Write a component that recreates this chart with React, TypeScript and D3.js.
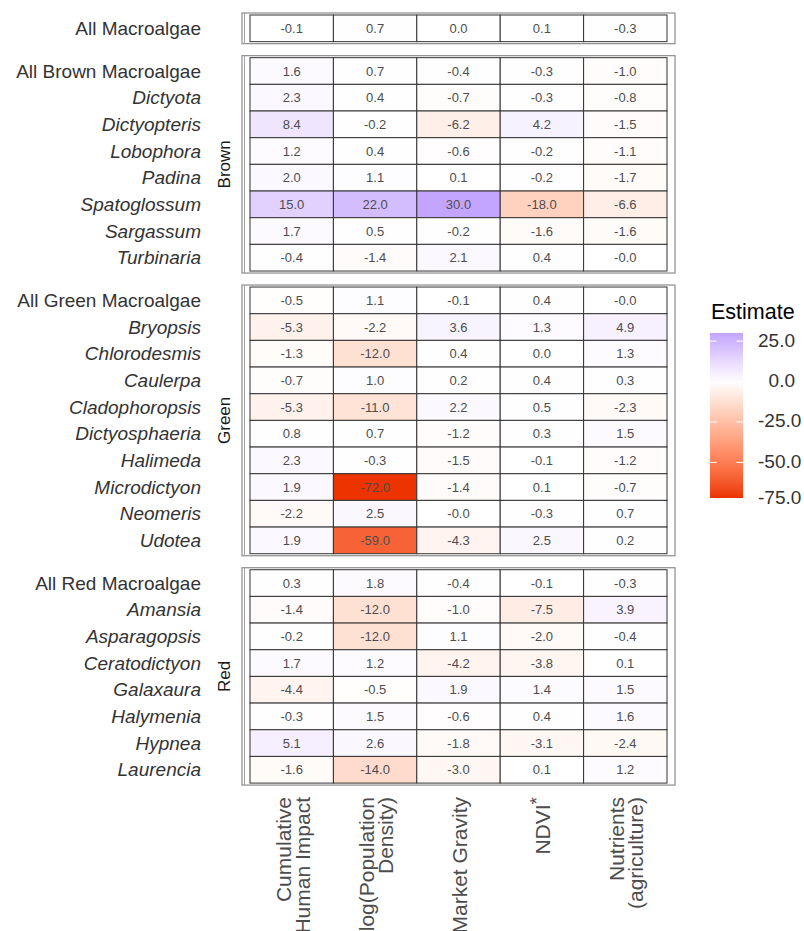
import React from "react";
import * as d3 from "d3";

// column (predictor) labels, one array of lines per column
const columnKeys = ["chi", "logpop", "gravity", "ndvi", "nutrients"];
const columnLines = [
  ["Cumulative", "Human Impact"],
  ["log(Population", "Density)"],
  ["Market Gravity"],
  ["NDVI"],
  ["Nutrients", "(agriculture)"],
];
const columnStar = [false, false, false, true, false];

// rows and estimates per group
const allRows = ["All Macroalgae"];
const allValues = [[-0.1, 0.7, 0.0, 0.1, -0.3]];

const brownRows = ["All Brown Macroalgae", "Dictyota", "Dictyopteris", "Lobophora", "Padina", "Spatoglossum", "Sargassum", "Turbinaria"];
const brownValues = [
  [1.6, 0.7, -0.4, -0.3, -1.0],
  [2.3, 0.4, -0.7, -0.3, -0.8],
  [8.4, -0.2, -6.2, 4.2, -1.5],
  [1.2, 0.4, -0.6, -0.2, -1.1],
  [2.0, 1.1, 0.1, -0.2, -1.7],
  [15.0, 22.0, 30.0, -18.0, -6.6],
  [1.7, 0.5, -0.2, -1.6, -1.6],
  [-0.4, -1.4, 2.1, 0.4, -0.02],
];

const greenRows = ["All Green Macroalgae", "Bryopsis", "Chlorodesmis", "Caulerpa", "Cladophoropsis", "Dictyosphaeria", "Halimeda", "Microdictyon", "Neomeris", "Udotea"];
const greenValues = [
  [-0.5, 1.1, -0.1, 0.4, -0.02],
  [-5.3, -2.2, 3.6, 1.3, 4.9],
  [-1.3, -12.0, 0.4, 0.0, 1.3],
  [-0.7, 1.0, 0.2, 0.4, 0.3],
  [-5.3, -11.0, 2.2, 0.5, -2.3],
  [0.8, 0.7, -1.2, 0.3, 1.5],
  [2.3, -0.3, -1.5, -0.1, -1.2],
  [1.9, -72.0, -1.4, 0.1, -0.7],
  [-2.2, 2.5, -0.02, -0.3, 0.7],
  [1.9, -59.0, -4.3, 2.5, 0.2],
];

const redRows = ["All Red Macroalgae", "Amansia", "Asparagopsis", "Ceratodictyon", "Galaxaura", "Halymenia", "Hypnea", "Laurencia"];
const redValues = [
  [0.3, 1.8, -0.4, -0.1, -0.3],
  [-1.4, -12.0, -1.0, -7.5, 3.9],
  [-0.2, -12.0, 1.1, -2.0, -0.4],
  [1.7, 1.2, -4.2, -3.8, 0.1],
  [-4.4, -0.5, 1.9, 1.4, 1.5],
  [-0.3, 1.5, -0.6, 0.4, 1.6],
  [5.1, 2.6, -1.8, -3.1, -2.4],
  [-1.6, -14.0, -3.0, 0.1, 1.2],
];

const legendBreaks = [25, 0, -25, -50, -75];

const W = 804;
const H = 931;
const ROW_H = 26.67;
const GAP = 16;
const FONT = "'Liberation Sans', Arial, Helvetica, sans-serif";

const panels = [
  { group: "", rows: allRows, values: allValues },
  { group: "Brown", rows: brownRows, values: brownValues },
  { group: "Green", rows: greenRows, values: greenValues },
  { group: "Red", rows: redRows, values: redValues },
];

let cursor = 15;
const laid = panels.map((p) => {
  const top = cursor;
  const bottom = top + p.rows.length * ROW_H;
  cursor = bottom + GAP;
  const y = d3.scaleBand<string>().domain(p.rows).range([top, bottom]);
  return { ...p, top, bottom, y };
});

const x = d3.scaleBand<string>().domain(columnKeys).range([250, 667]);

const allNums = panels.flatMap((p) => p.values.flat());
const [vmin, vmax] = d3.extent(allNums) as [number, number];
const color = d3
  .scaleLinear<string>()
  .domain([vmin, 0, vmax])
  .range(["#EC3300", "#ffffff", "#C3A5FF"])
  .interpolate(d3.interpolateLab);

const legY = d3.scaleLinear().domain([vmin, vmax]).range([498, 333]);
const LEG_X = 710;
const LEG_W = 33;
const LEG_FS = 19;

export default function App() {
  const stops = d3.range(0, 1.0001, 0.05).map((t) => {
    const v = vmin + t * (vmax - vmin);
    return { off: t, c: color(v) };
  });

  return (
    <svg
      width={W}
      height={H}
      style={{ position: "absolute", left: 0, top: 0, background: "#fff" }}
      fontFamily={FONT}
    >
      <defs>
        <linearGradient id="leg" x1="0" y1="1" x2="0" y2="0">
          {stops.map((s, i) => (
            <stop key={i} offset={s.off} stopColor={s.c} />
          ))}
        </linearGradient>
      </defs>

      {laid.map((p, pi) => (
        <g key={pi}>
          {/* panel frame */}
          <rect
            x={242}
            y={p.top - 2}
            width={433}
            height={p.bottom - p.top + 4}
            fill="none"
            stroke="#8c8c8c"
            strokeWidth={1.2}
          />
          <line x1={244.5} x2={244.5} y1={p.top - 2} y2={p.bottom + 2} stroke="#a0a0a0" strokeWidth={1} />

          {p.rows.map((r, ri) =>
            p.values[ri].map((v, ci) => {
              const cx = x(columnKeys[ci])!;
              const cy = p.y(r)!;
              return (
                <g key={`${ri}-${ci}`}>
                  <rect
                    x={cx}
                    y={cy}
                    width={x.bandwidth()}
                    height={p.y.bandwidth()}
                    fill={color(v)}
                    stroke="#333"
                    strokeWidth={1}
                  />
                  <text
                    x={cx + x.bandwidth() / 2}
                    y={cy + p.y.bandwidth() / 2}
                    textAnchor="middle"
                    dominantBaseline="central"
                    fontSize={13}
                    fill="#4d4d4d"
                  >
                    {v.toFixed(1)}
                  </text>
                </g>
              );
            })
          )}

          {/* row labels */}
          {p.rows.map((r) => (
            <text
              key={r}
              x={201}
              y={p.y(r)! + p.y.bandwidth() / 2}
              textAnchor="end"
              dominantBaseline="central"
              fontSize={19}
              fontStyle={r.startsWith("All") ? "normal" : "italic"}
              fill="#333"
            >
              {r}
            </text>
          ))}

          {/* strip label */}
          {p.group && (
            <text
              transform={`translate(224,${(p.top + p.bottom) / 2}) rotate(-90)`}
              textAnchor="middle"
              dominantBaseline="central"
              fontSize={17}
              fill="#1a1a1a"
            >
              {p.group}
            </text>
          )}
        </g>
      ))}

      {/* x axis labels */}
      {columnKeys.map((k, ci) => {
        const lines = columnLines[ci];
        const cx = x(k)! + x.bandwidth() / 2;
        return (
          <text
            key={k}
            transform={`translate(${cx},797) rotate(-90)`}
            textAnchor="end"
            dominantBaseline="central"
            fontSize={21}
            fill="#4d4d4d"
          >
            {lines.map((ln, li) => (
              <tspan key={li} x={0} y={(li - (lines.length - 1) / 2) * 19 + 0.5}>
                {ln}
                {columnStar[ci] && li === lines.length - 1 && (
                  <tspan fontSize={19} dy={-6}>
                    *
                  </tspan>
                )}
              </tspan>
            ))}
          </text>
        );
      })}

      {/* legend */}
      <text x={711} y={319} fontSize={21.5} fill="#000">
        Estimate
      </text>
      <rect x={LEG_X} y={legY(vmax)} width={LEG_W} height={legY(vmin) - legY(vmax)} fill="url(#leg)" />
      {legendBreaks.map((b) => {
        const yy = legY(b);
        const inside = b >= vmin && b <= vmax;
        const ly = Math.min(Math.max(yy, legY(vmax)), legY(vmin)) - 1;
        const s = Math.abs(b).toFixed(1);
        const shift = b >= 0 ? (4 - s.length) * 0.556 * LEG_FS : 0;
        return (
          <g key={b}>
            {inside && (
              <>
                <line x1={LEG_X} x2={LEG_X + 6.6} y1={yy} y2={yy} stroke="#fff" strokeWidth={1} />
                <line x1={LEG_X + LEG_W - 6.6} x2={LEG_X + LEG_W} y1={yy} y2={yy} stroke="#fff" strokeWidth={1} />
              </>
            )}
            <text x={758 + shift} y={ly} dominantBaseline="central" fontSize={LEG_FS} fill="#333">
              {b.toFixed(1)}
            </text>
          </g>
        );
      })}
    </svg>
  );
}
